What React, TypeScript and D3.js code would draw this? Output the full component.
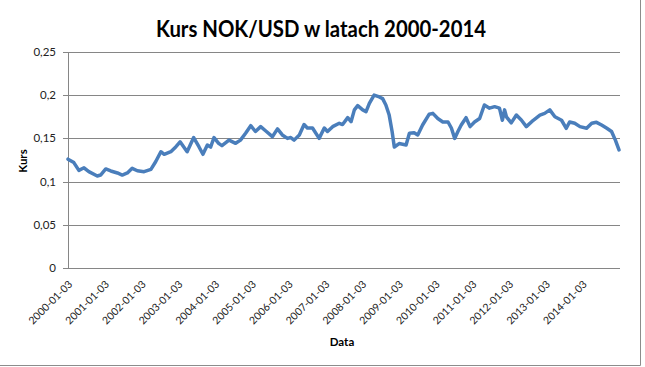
import React from "react";
import * as d3 from "d3";

const title = "Kurs NOK/USD w latach 2000-2014";
const yLabel = "Kurs";
const xLabel = "Data";

const dates: string[] = [
  "2000-01-03","2000-03-01","2000-04-20","2000-06-10","2000-07-28","2000-10-20","2000-11-22",
  "2001-01-12","2001-03-03","2001-05-08","2001-06-25","2001-08-15","2001-10-02","2001-11-22",
  "2002-01-28","2002-04-06","2002-05-23","2002-07-14","2002-08-16","2002-10-21","2002-12-11",
  "2003-01-21","2003-04-01","2003-06-05","2003-07-27","2003-09-05","2003-10-19","2003-11-21","2003-12-24",
  "2004-02-08","2004-03-12","2004-05-21","2004-07-26","2004-09-12","2004-11-02","2004-12-23",
  "2005-02-08","2005-04-01","2005-05-22","2005-07-26","2005-09-15","2005-11-02","2005-12-23",
  "2006-01-25","2006-02-27","2006-04-20","2006-06-06","2006-07-09","2006-08-29","2006-11-03","2006-12-24",
  "2007-01-25","2007-03-17","2007-05-22","2007-06-24","2007-08-14","2007-09-16","2007-10-19","2007-11-21",
  "2008-01-10","2008-02-12","2008-03-16","2008-05-02","2008-06-23","2008-07-26","2008-08-27","2008-09-29","2008-10-28","2008-11-19",
  "2009-01-06","2009-03-16","2009-04-18","2009-06-04","2009-07-10","2009-08-27","2009-11-01","2009-12-07",
  "2010-01-25","2010-03-16","2010-05-07","2010-06-09","2010-07-12","2010-08-13","2010-09-15","2010-11-02","2010-12-12",
  "2011-01-25","2011-03-17","2011-05-03","2011-06-23","2011-08-13","2011-09-30","2011-10-29","2011-11-20","2011-12-08",
  "2012-01-25","2012-03-16","2012-05-06","2012-06-23","2012-08-31","2012-11-05","2012-12-22",
  "2013-02-11","2013-04-03","2013-06-08","2013-07-25","2013-08-27","2013-10-17","2013-12-08",
  "2014-02-12","2014-04-04","2014-05-21","2014-07-11","2014-09-01","2014-10-18","2014-11-25","2014-12-31",
];

const kurs: number[] = [
  0.126,0.122,0.113,0.116,0.1115,0.1065,0.1076,
  0.1146,0.1123,0.110,0.1076,0.110,0.1154,0.1126,
  0.1115,0.1142,0.123,0.1346,0.1316,0.1346,0.1404,
  0.146,0.1346,0.151,0.1404,0.1316,0.1424,0.140,0.151,
  0.1443,0.1416,0.148,0.1443,0.148,0.156,0.1647,
  0.158,0.1636,0.1586,0.152,0.161,0.154,0.150,
  0.151,0.148,0.154,0.166,0.162,0.162,0.150,0.162,
  0.158,0.1636,0.1675,0.166,0.174,0.1693,0.183,0.188,
  0.183,0.181,0.1906,0.2002,0.198,0.196,0.1887,0.177,0.158,0.140,
  0.144,0.1424,0.156,0.1566,0.154,0.1655,0.178,0.179,
  0.173,0.169,0.169,0.162,0.150,0.158,0.1655,0.174,0.1636,
  0.169,0.173,0.1887,0.185,0.1867,0.185,0.171,0.183,0.175,
  0.168,0.177,0.171,0.1636,0.171,0.177,0.179,
  0.183,0.175,0.171,0.1617,0.169,0.1675,0.1636,
  0.1617,0.1675,0.1686,0.1655,0.1617,0.158,0.148,0.1366,
];

const yTicks: number[] = [0, 0.05, 0.1, 0.15, 0.2, 0.25];
const xTickLabels: string[] = [
  "2000-01-03","2001-01-03","2002-01-03","2003-01-03","2004-01-03","2005-01-03","2006-01-03","2007-01-03",
  "2008-01-03","2009-01-03","2010-01-03","2011-01-03","2012-01-03","2013-01-03","2014-01-03",
];

const W = 645;
const H = 367;
const plot = { left: 68, right: 620, top: 52, bottom: 268 };
const FONT = "Lato, 'Open Sans', sans-serif";

export default function App() {
  const parse = d3.timeParse("%Y-%m-%d");
  const x = d3
    .scaleTime()
    .domain([parse("2000-01-03")!, parse("2014-12-31")!])
    .range([plot.left, plot.right - 1]);
  const y = d3.scaleLinear().domain([0, 0.25]).range([plot.bottom, plot.top]);

  const data = dates.map((d, i) => ({ date: parse(d)!, v: kurs[i] }));
  const line = d3
    .line<{ date: Date; v: number }>()
    .x((d) => x(d.date))
    .y((d) => y(d.v));

  const fmt = (v: number) => String(+v.toFixed(2)).replace(".", ",");

  return (
    <svg
      width={W}
      height={H}
      style={{ position: "absolute", left: 0, top: 0, background: "#fff" }}
      fontFamily={FONT}
    >
      <rect x={0} y={0} width={W} height={H} fill="#fff" />
      <line x1={0} x2={640.5} y1={365.5} y2={365.5} stroke="#8c8c8c" />
      <line x1={640.5} x2={640.5} y1={0} y2={365.5} stroke="#8c8c8c" />

      <text
        x={321}
        y={37}
        textAnchor="middle"
        fontSize={22}
        fontWeight="bold"
        fill="#000"
        textLength={330}
        lengthAdjust="spacingAndGlyphs"
      >
        {title}
      </text>

      {yTicks.map((t) => (
        <g key={t}>
          <line
            x1={plot.left - 5}
            x2={plot.right}
            y1={Math.round(y(t)) + 0.5}
            y2={Math.round(y(t)) + 0.5}
            stroke="#868686"
          />
          <text x={56} y={y(t) + 4} textAnchor="end" fontSize={11.5} fill="#222">
            {fmt(t)}
          </text>
        </g>
      ))}
      <line
        x1={plot.left + 0.5}
        x2={plot.left + 0.5}
        y1={plot.top}
        y2={plot.bottom + 1}
        stroke="#868686"
      />

      {xTickLabels.map((l) => {
        const px = x(parse(l)!);
        return (
          <text
            key={l}
            transform={`translate(${px + 5},${285}) rotate(-45)`}
            textAnchor="end"
            fontSize={10.5}
            fill="#222"
          >
            {l}
          </text>
        );
      })}

      <path
        d={line(data) || ""}
        fill="none"
        stroke="#4A7EBB"
        strokeWidth={3.5}
        strokeLinejoin="round"
        strokeLinecap="round"
      />

      <text
        transform={`translate(27,161) rotate(-90)`}
        textAnchor="middle"
        fontSize={11.5}
        fontWeight="bold"
        fill="#000"
      >
        {yLabel}
      </text>
      <text x={342} y={346} textAnchor="middle" fontSize={11.5} fontWeight="bold" fill="#000">
        {xLabel}
      </text>
    </svg>
  );
}
